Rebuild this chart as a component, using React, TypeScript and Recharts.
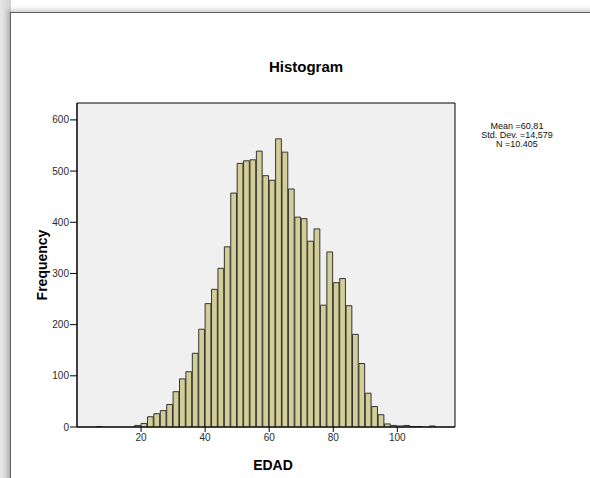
import { BarChart, Bar, XAxis, YAxis, CartesianGrid, ReferenceArea } from "recharts";

// bin midpoints (2-year bins) and counts
const binMids = [
  7, 19, 21, 23, 25, 27, 29, 31, 33, 35, 37, 39, 41, 43, 45, 47, 49, 51, 53, 55, 57, 59,
  61, 63, 65, 67, 69, 71, 73, 75, 77, 79, 81, 83, 85, 87, 89, 91, 93, 95, 97, 99, 101,
  103, 105, 107, 111
];
const counts = [
  1, 3, 7, 20, 26, 32, 44, 69, 94, 108, 144, 191, 241, 269, 310, 352, 457, 515, 520, 522,
  539, 491, 482, 563, 537, 465, 410, 407, 363, 387, 238, 342, 282, 290, 237, 181, 124, 66,
  40, 24, 6, 3, 2, 3, 1, 1, 2
];
const xTicks = [20, 40, 60, 80, 100];
const yTicks = [0, 100, 200, 300, 400, 500, 600];
const statLines = ["Mean =60,81", "Std. Dev. =14,579", "N =10.405"];

const xDomain: [number, number] = [0, 118];
const yDomain: [number, number] = [0, 633];
const binWidth = 2;

const data = binMids.map((mid, i) => ({ mid, freq: counts[i] }));

const W = 590;
const H = 478;
const margin = { top: 103, right: 135, bottom: 21, left: 30 };
const plotW = W - margin.left - 47 - margin.right;
const barSize = (plotW / (xDomain[1] - xDomain[0])) * binWidth;

const tickStyle = { fill: "#2a2a2a", fontSize: 10, fontFamily: "'Liberation Sans', Arial, sans-serif" };
const labelFont = "'Liberation Sans', Arial, sans-serif";

export default function App() {
  return (
    <div style={{ position: "absolute", left: 0, top: 0, width: W, height: H, overflow: "hidden", background: "#fff" }}>
      <div style={{ position: "absolute", left: 0, top: 0, width: 11, height: H, background: "linear-gradient(to right, #e6e6e6, #d2d2d2)" }} />
      <div
        style={{
          position: "absolute",
          left: 10,
          top: 12,
          width: W,
          height: H,
          borderLeft: "1px solid #5e5e5e",
          borderTop: "1px solid #5e5e5e",
          boxShadow: "-2px -2px 5px rgba(0,0,0,0.22)",
          background: "#fff"
        }}
      />
      <BarChart
        width={W}
        height={H}
        data={data}
        margin={margin}
        style={{ position: "absolute", left: 0, top: 0 }}
      >
        <CartesianGrid horizontal={false} vertical={false} fill="#f0f0f0" />
        <XAxis
          type="number"
          dataKey="mid"
          domain={xDomain}
          ticks={xTicks}
          allowDataOverflow
          height={30}
          stroke="#000"
          tick={tickStyle}
          tickSize={5}
          label={{ value: "EDAD", position: "center", dx: 7, dy: 23, fill: "#000", fontSize: 14, fontWeight: "bold", fontFamily: labelFont }}
        />
        <YAxis
          type="number"
          domain={yDomain}
          ticks={yTicks}
          allowDataOverflow
          width={47}
          stroke="#000"
          tick={tickStyle}
          tickSize={7}
          tickMargin={1}
          label={{ value: "Frequency", angle: -90, position: "center", dx: -11, fill: "#000", fontSize: 14, fontWeight: "bold", fontFamily: labelFont }}
        />
        <Bar dataKey="freq" fill="#d3ce97" stroke="#333" strokeWidth={1} barSize={barSize} isAnimationActive={false} />
        <ReferenceArea x1={xDomain[0]} x2={xDomain[1]} y1={yDomain[0]} y2={yDomain[1]} fill="none" stroke="#000" strokeWidth={1} ifOverflow="visible" />
      </BarChart>
      <div
        style={{
          position: "absolute",
          left: 206,
          top: 58,
          width: 200,
          textAlign: "center",
          fontFamily: labelFont,
          fontWeight: "bold",
          fontSize: 15,
          lineHeight: "18px",
          color: "#000"
        }}
      >
        Histogram
      </div>
      <div
        style={{
          position: "absolute",
          left: 467,
          top: 122,
          width: 100,
          textAlign: "center",
          fontFamily: labelFont,
          fontSize: 9,
          lineHeight: "9px",
          color: "#111"
        }}
      >
        {statLines.map((line) => (
          <div key={line}>{line}</div>
        ))}
      </div>
    </div>
  );
}
